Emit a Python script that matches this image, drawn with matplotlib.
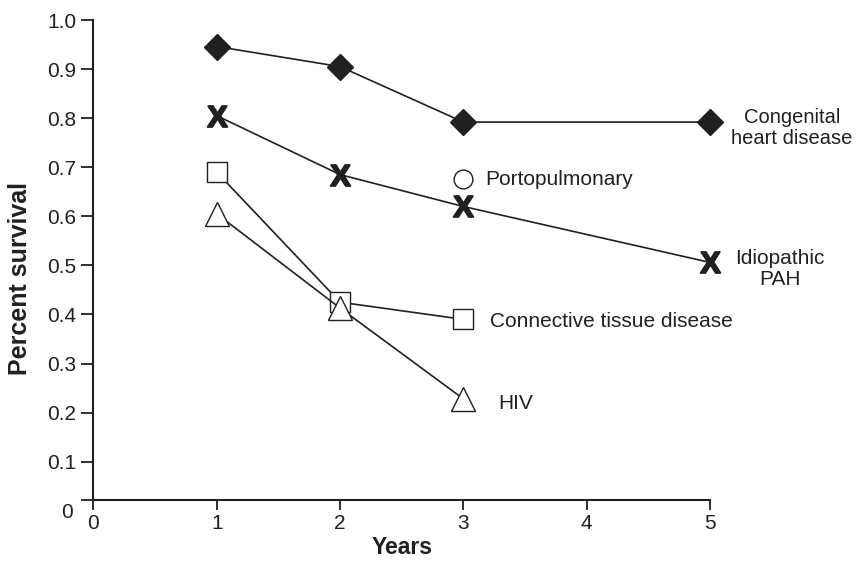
import matplotlib
matplotlib.use("Agg")
import matplotlib.pyplot as plt
from matplotlib.transforms import ScaledTranslation

# survival data
years_chd = [1, 2, 3, 5]
surv_chd = [0.946, 0.905, 0.792, 0.792]

years_ipah = [1, 2, 3, 5]
surv_ipah = [0.805, 0.685, 0.62, 0.506]

years_ctd = [1, 2, 3]
surv_ctd = [0.69, 0.425, 0.39]

years_hiv = [1, 2, 3]
surv_hiv = [0.605, 0.413, 0.228]

years_porto = [3]
surv_porto = [0.675]

x_ticks = [0, 1, 2, 3, 4, 5]
y_tick_labels = ["0", "0.1", "0.2", "0.3", "0.4", "0.5", "0.6", "0.7", "0.8", "0.9", "1.0"]

ink = "#231f20"
plt.rcParams["font.family"] = ["Liberation Sans", "DejaVu Sans"]
plt.rcParams["mathtext.fontset"] = "custom"
plt.rcParams["mathtext.bf"] = "Liberation Sans:bold"

fig = plt.figure(figsize=(8.57, 5.65), dpi=100)
ax = fig.add_axes([0.109, 0.1145, 0.7195, 0.8501])

line_kw = dict(color=ink, lw=1.2, clip_on=False, zorder=3)
ax.plot(years_chd, surv_chd, marker="D", ms=13.5, mfc=ink, mec=ink, **line_kw)
ax.plot(years_ipah, surv_ipah, marker=r"$\mathbf{X}$", ms=15, mfc=ink, mec=ink, mew=1.4, **line_kw)
ax.plot(years_ctd, surv_ctd, marker="s", ms=14.5, mfc="white", mec=ink, mew=1.0, **line_kw)
ax.plot(years_hiv, surv_hiv, marker="^", ms=17, mfc="white", mec=ink, mew=1.0, **line_kw)
ax.plot(years_porto, surv_porto, marker="o", ls="none", ms=13.5, mfc="white",
        mec=ink, mew=1.0, clip_on=False, zorder=3)

# series labels
txt_kw = dict(color=ink, va="center")
ax.text(5.665, 0.78, "Congenital\nheart disease", ha="center", fontsize=14.5,
        linespacing=1.15, **txt_kw)
ax.text(5.568, 0.493, "Idiopathic\nPAH", ha="center", fontsize=15, linespacing=1.15, **txt_kw)
ax.text(3.175, 0.675, "Portopulmonary", ha="left", fontsize=15, **txt_kw)
ax.text(3.215, 0.385, "Connective tissue disease", ha="left", fontsize=15, **txt_kw)
ax.text(3.28, 0.218, "HIV", ha="left", fontsize=15, **txt_kw)

# the original's axis line sits a bit above a true linear zero
y_zero = 0.0213
ax.set_xlim(0, 5)
ax.set_ylim(y_zero, 1.0)
ax.set_xticks(x_ticks)
ax.set_yticks([y_zero] + [i / 10 for i in range(1, 11)])
ax.set_yticklabels(y_tick_labels)

for side in ["top", "right"]:
    ax.spines[side].set_visible(False)
for side in ["left", "bottom"]:
    ax.spines[side].set_linewidth(1.5)
    ax.spines[side].set_color(ink)
ax.tick_params(axis="y", length=8.5, width=1.3, color=ink, labelcolor=ink, labelsize=15, pad=4)
ax.tick_params(axis="x", length=7, width=1.3, color=ink, labelcolor=ink, labelsize=15, pad=3)

# "0" label sits slightly below its tick, as in the original
zero_lbl = ax.yaxis.get_major_ticks()[0].label1
zero_lbl.set_transform(zero_lbl.get_transform()
                       + ScaledTranslation(-2 / 72, -7 / 72, fig.dpi_scale_trans))

ax.set_xlabel("Years", fontsize=16.5, fontweight="bold", color=ink, labelpad=2)
ax.set_ylabel("Percent survival", fontsize=18, fontweight="bold", color=ink)
ax.yaxis.set_label_coords(-0.0995, 0.461)

fig.savefig("out.png", dpi=100)
